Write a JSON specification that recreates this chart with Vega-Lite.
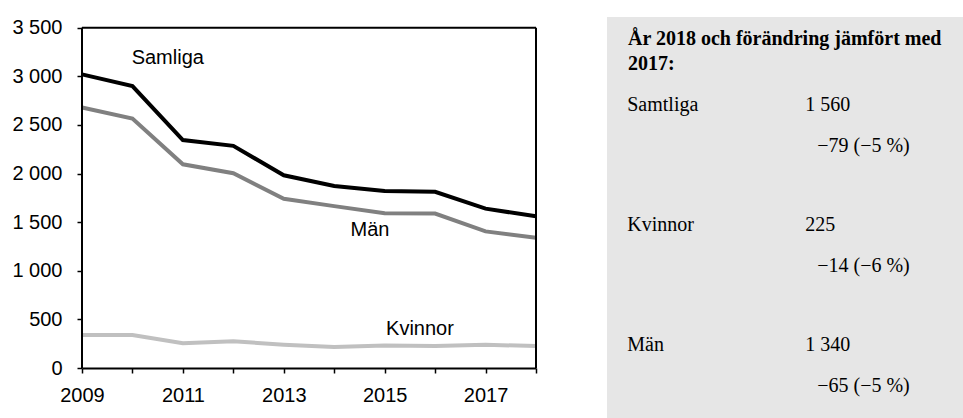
{
  "$schema": "https://vega.github.io/schema/vega-lite/v6.json",
  "background": "white",
  "padding": {"left": 11, "top": 17, "right": 0, "bottom": 0},
  "spacing": 63,
  "config": {"view": {"stroke": null}, "font": "Liberation Sans"},
  "datasets": {
    "serier": [
      {"ar": 2009, "serie": "Samtliga", "antal": 3020},
      {"ar": 2010, "serie": "Samtliga", "antal": 2900},
      {"ar": 2011, "serie": "Samtliga", "antal": 2345},
      {"ar": 2012, "serie": "Samtliga", "antal": 2285},
      {"ar": 2013, "serie": "Samtliga", "antal": 1982},
      {"ar": 2014, "serie": "Samtliga", "antal": 1872},
      {"ar": 2015, "serie": "Samtliga", "antal": 1820},
      {"ar": 2016, "serie": "Samtliga", "antal": 1812},
      {"ar": 2017, "serie": "Samtliga", "antal": 1639},
      {"ar": 2018, "serie": "Samtliga", "antal": 1560},
      {"ar": 2009, "serie": "Män", "antal": 2680},
      {"ar": 2010, "serie": "Män", "antal": 2565},
      {"ar": 2011, "serie": "Män", "antal": 2095},
      {"ar": 2012, "serie": "Män", "antal": 2003},
      {"ar": 2013, "serie": "Män", "antal": 1740},
      {"ar": 2014, "serie": "Män", "antal": 1665},
      {"ar": 2015, "serie": "Män", "antal": 1592},
      {"ar": 2016, "serie": "Män", "antal": 1588},
      {"ar": 2017, "serie": "Män", "antal": 1405},
      {"ar": 2018, "serie": "Män", "antal": 1340},
      {"ar": 2009, "serie": "Kvinnor", "antal": 340},
      {"ar": 2010, "serie": "Kvinnor", "antal": 340},
      {"ar": 2011, "serie": "Kvinnor", "antal": 255},
      {"ar": 2012, "serie": "Kvinnor", "antal": 275},
      {"ar": 2013, "serie": "Kvinnor", "antal": 240},
      {"ar": 2014, "serie": "Kvinnor", "antal": 215},
      {"ar": 2015, "serie": "Kvinnor", "antal": 232},
      {"ar": 2016, "serie": "Kvinnor", "antal": 225},
      {"ar": 2017, "serie": "Kvinnor", "antal": 239},
      {"ar": 2018, "serie": "Kvinnor", "antal": 225}
    ],
    "etiketter": [
      {"etikett": "Samliga", "ar": 2010.7, "antal": 3185},
      {"etikett": "Män", "ar": 2014.71, "antal": 1418},
      {"etikett": "Kvinnor", "ar": 2015.7, "antal": 405}
    ],
    "tabell": [
      {"grupp": "Samtliga", "antal": "1 560", "forandring": "−79 (−5 %)"},
      {"grupp": "Kvinnor", "antal": "225", "forandring": "−14 (−6 %)"},
      {"grupp": "Män", "antal": "1 340", "forandring": "−65 (−5 %)"}
    ]
  },
  "hconcat": [
    {
      "width": 454,
      "height": 351,
      "layer": [
        {
          "data": {"name": "serier"},
          "mark": {"type": "line", "strokeWidth": 4},
          "encoding": {
            "x": {
              "field": "ar", "type": "quantitative",
              "scale": {"domain": [2009, 2018], "nice": false, "zero": false},
              "axis": {
                "values": [2009, 2010, 2011, 2012, 2013, 2014, 2015, 2016, 2017, 2018],
                "labelExpr": "datum.value % 2 == 1 ? '' + datum.value : ''",
                "title": null, "grid": false,
                "labelFont": "Liberation Sans", "labelFontSize": 20, "labelColor": "black",
                "tickColor": "black", "tickSize": 5, "tickWidth": 1.5,
                "domainColor": "black", "domainWidth": 2,
                "labelPadding": 12, "labelOverlap": false, "labelFlush": false
              }
            },
            "y": {
              "field": "antal", "type": "quantitative",
              "scale": {"domain": [0, 3610], "nice": false},
              "axis": {
                "values": [0, 500, 1000, 1500, 2000, 2500, 3000, 3500],
                "labelExpr": "replace(format(datum.value, ',d'), ',', ' ')",
                "title": null, "grid": false, "domain": false,
                "labelFont": "Liberation Sans", "labelFontSize": 20, "labelColor": "black",
                "tickColor": "black", "tickSize": 5, "tickWidth": 1.5,
                "labelPadding": 15
              }
            },
            "color": {
              "field": "serie", "type": "nominal",
              "scale": {"domain": ["Samtliga", "Män", "Kvinnor"], "range": ["#000000", "#808080", "#c0c0c0"]},
              "legend": null
            }
          }
        },
        {
          "data": {"values": [{}]},
          "mark": {"type": "rule", "color": "black", "strokeWidth": 2},
          "encoding": {
            "x": {"datum": 2009, "type": "quantitative"},
            "x2": {"datum": 2018},
            "y": {"datum": 3500, "type": "quantitative"}
          }
        },
        {
          "data": {"values": [{}]},
          "mark": {"type": "rule", "color": "black", "strokeWidth": 2},
          "encoding": {
            "x": {"datum": 2009, "type": "quantitative"},
            "y": {"datum": 0, "type": "quantitative"},
            "y2": {"datum": 3500}
          }
        },
        {
          "data": {"values": [{}]},
          "mark": {"type": "rule", "color": "black", "strokeWidth": 2},
          "encoding": {
            "x": {"datum": 2018, "type": "quantitative"},
            "y": {"datum": 0, "type": "quantitative"},
            "y2": {"datum": 3500}
          }
        },
        {
          "data": {"name": "etiketter"},
          "mark": {"type": "text", "font": "Liberation Sans", "fontSize": 20, "color": "black", "align": "center", "baseline": "middle"},
          "encoding": {
            "x": {"field": "ar", "type": "quantitative"},
            "y": {"field": "antal", "type": "quantitative"},
            "text": {"field": "etikett"}
          }
        }
      ]
    },
    {
      "width": 357,
      "height": 401,
      "view": {"fill": "#e6e6e6", "stroke": null},
      "title": {
        "text": ["År 2018 och förändring jämfört med", "2017:"],
        "anchor": "start", "frame": "group", "orient": "top",
        "offset": -73, "dx": 21, "baseline": "alphabetic",
        "font": "Liberation Serif", "fontSize": 20, "fontWeight": "bold",
        "color": "black", "lineHeight": 25
      },
      "data": {"name": "tabell"},
      "encoding": {
        "y": {
          "field": "grupp", "type": "nominal",
          "scale": {"type": "band", "domain": ["Samtliga", "Kvinnor", "Män"], "range": [34, 394], "paddingInner": 0, "paddingOuter": 0},
          "axis": null
        }
      },
      "layer": [
        {
          "mark": {"type": "text", "align": "left", "baseline": "alphabetic", "font": "Liberation Serif", "fontSize": 20, "color": "black"},
          "encoding": {
            "x": {
              "datum": "namn", "type": "nominal",
              "scale": {"type": "point", "domain": ["namn", "antal"], "padding": 0.503, "align": 0.113},
              "axis": null
            },
            "text": {"field": "grupp"}
          }
        },
        {
          "mark": {"type": "text", "align": "left", "baseline": "alphabetic", "font": "Liberation Serif", "fontSize": 20, "color": "black"},
          "encoding": {
            "x": {"datum": "antal", "type": "nominal"},
            "text": {"field": "antal"}
          }
        },
        {
          "mark": {"type": "text", "align": "left", "baseline": "alphabetic", "font": "Liberation Serif", "fontSize": 20, "color": "black", "dx": 12, "dy": 41},
          "encoding": {
            "x": {"datum": "antal", "type": "nominal"},
            "text": {"field": "forandring"}
          }
        }
      ]
    }
  ]
}
